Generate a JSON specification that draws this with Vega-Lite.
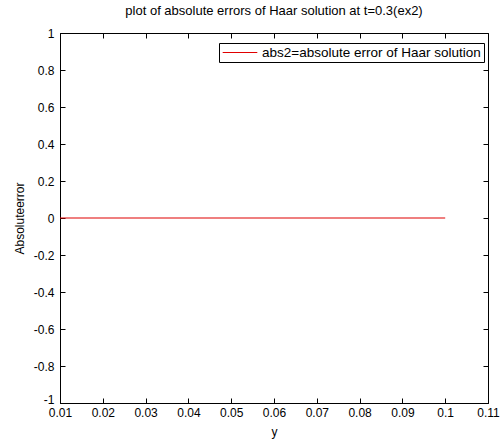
{
  "$schema": "https://vega.github.io/schema/vega-lite/v6.json",
  "width": 428,
  "height": 370,
  "autosize": {"type": "none"},
  "padding": {"left": 60, "top": 33, "right": 12, "bottom": 39},
  "background": "white",
  "config": {
    "font": "Liberation Sans",
    "view": {"stroke": "black", "strokeWidth": 1},
    "axis": {
      "grid": false,
      "domainColor": "black",
      "tickColor": "black",
      "labelColor": "black",
      "labelFont": "Liberation Sans",
      "labelFontSize": 12,
      "labelFlush": false,
      "labelOverlap": false,
      "titleFont": "Liberation Sans",
      "titleFontSize": 12,
      "titleFontWeight": "normal",
      "titleColor": "black"
    }
  },
  "title": {
    "text": "plot of absolute errors of  Haar solution at t=0.3(ex2)",
    "font": "Liberation Sans",
    "fontSize": 13,
    "fontWeight": "normal",
    "color": "black",
    "offset": 9
  },
  "data": {
    "values": [
      {"y": 0.01, "err": 0, "s": "abs2=absolute error of Haar solution"},
      {"y": 0.02, "err": 0, "s": "abs2=absolute error of Haar solution"},
      {"y": 0.03, "err": 0, "s": "abs2=absolute error of Haar solution"},
      {"y": 0.04, "err": 0, "s": "abs2=absolute error of Haar solution"},
      {"y": 0.05, "err": 0, "s": "abs2=absolute error of Haar solution"},
      {"y": 0.06, "err": 0, "s": "abs2=absolute error of Haar solution"},
      {"y": 0.07, "err": 0, "s": "abs2=absolute error of Haar solution"},
      {"y": 0.08, "err": 0, "s": "abs2=absolute error of Haar solution"},
      {"y": 0.09, "err": 0, "s": "abs2=absolute error of Haar solution"},
      {"y": 0.1, "err": 0, "s": "abs2=absolute error of Haar solution"}
    ]
  },
  "layer": [
    {
      "mark": {"type": "line", "strokeWidth": 1.2},
      "encoding": {
        "x": {
          "field": "y", "type": "quantitative",
          "scale": {"domain": [0.01, 0.11], "nice": false, "zero": false},
          "axis": {"title": "y", "ticks": false, "labelPadding": 4, "values": [0.01,0.02,0.03,0.04,0.05,0.06,0.07,0.08,0.09,0.1,0.11], "format": "~g", "titlePadding": 8}
        },
        "y": {
          "field": "err", "type": "quantitative",
          "scale": {"domain": [-1, 1], "nice": false},
          "axis": {
            "title": "Absoluteerror", "ticks": false, "labelPadding": 6,
            "values": [-1,-0.8,-0.6,-0.4,-0.2,0,0.2,0.4,0.6,0.8,1],
            "labelExpr": "replace(format(datum.value, '~g'), '\u2212', '-')",
            "labelBaseline": {"condition": {"test": "datum.value == -1", "value": "alphabetic"}, "value": "middle"},
            "titlePadding": 7
          }
        },
        "color": {
          "field": "s", "type": "nominal",
          "scale": {"range": ["#e00000"]},
          "legend": {
            "title": null,
            "orient": "none",
            "legendX": 159,
            "legendY": 10,
            "strokeColor": "black",
            "fillColor": "white",
            "padding": 3,
            "clipHeight": 13,
            "symbolType": "stroke",
            "symbolSize": 1200,
            "symbolStrokeWidth": 1,
            "labelFont": "Liberation Sans",
            "labelFontSize": 13.5,
            "labelColor": "black",
            "labelLimit": 400,
            "cornerRadius": 0
          }
        }
      }
    },
    {
      "mark": {"type": "point", "opacity": 0},
      "encoding": {
        "x": {
          "field": "y", "type": "quantitative",
          "scale": {"domain": [0.01, 0.11], "nice": false, "zero": false},
          "axis": {"orient": "top", "title": null, "labels": false, "domain": false, "offset": -5, "tickSize": 5, "values": [0.01,0.02,0.03,0.04,0.05,0.06,0.07,0.08,0.09,0.1,0.11]}
        },
        "y": {
          "field": "err", "type": "quantitative",
          "scale": {"domain": [-1, 1], "nice": false},
          "axis": {"orient": "right", "title": null, "labels": false, "domain": false, "offset": -5, "tickSize": 5, "values": [-1,-0.8,-0.6,-0.4,-0.2,0,0.2,0.4,0.6,0.8,1]}
        }
      }
    },
    {
      "mark": {"type": "point", "opacity": 0},
      "encoding": {
        "x": {
          "field": "y", "type": "quantitative",
          "scale": {"domain": [0.01, 0.11], "nice": false, "zero": false},
          "axis": {"orient": "bottom", "title": null, "labels": false, "domain": false, "offset": -5, "tickSize": 5, "values": [0.01,0.02,0.03,0.04,0.05,0.06,0.07,0.08,0.09,0.1,0.11]}
        },
        "y": {
          "field": "err", "type": "quantitative",
          "scale": {"domain": [-1, 1], "nice": false},
          "axis": {"orient": "left", "title": null, "labels": false, "domain": false, "offset": -5, "tickSize": 5, "values": [-1,-0.8,-0.6,-0.4,-0.2,0,0.2,0.4,0.6,0.8,1]}
        }
      }
    }
  ],
  "resolve": {
    "scale": {"x": "independent", "y": "independent", "color": "independent"},
    "axis": {"x": "independent", "y": "independent"}
  }
}
